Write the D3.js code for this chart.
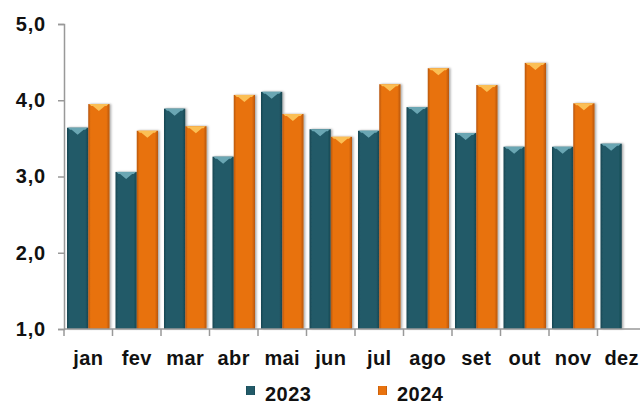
<!DOCTYPE html>
<html>
<head>
<meta charset="utf-8">
<script src="https://cdn.jsdelivr.net/npm/d3@7"></script>
<style>
  body { margin: 0; background: #fff; }
  text { font-family: "Liberation Sans", Arial, sans-serif; font-weight: bold; fill: #111; }
</style>
</head>
<body>
<div id="chart"></div>
<script>
var months = ["jan", "fev", "mar", "abr", "mai", "jun", "jul", "ago", "set", "out", "nov", "dez"];
var series = ["2023", "2024"];
var values2023 = [3.64, 3.06, 3.89, 3.26, 4.11, 3.62, 3.60, 3.91, 3.57, 3.39, 3.39, 3.43];
var values2024 = [3.95, 3.60, 3.66, 4.07, 3.82, 3.52, 4.21, 4.42, 4.20, 4.49, 3.96, null];
var yTicks = [1, 2, 3, 4, 5];

var colors = { "2023": ["#174651", "#225a68", "#6aa6b3"], "2024": ["#b8560a", "#e8720e", "#fbbf55"] };

var width = 640, height = 405;
var svg = d3.select("#chart").append("svg")
    .attr("width", width)
    .attr("height", height);

var defs = svg.append("defs");
series.forEach(function(s) {
    var g = defs.append("linearGradient").attr("id", "grad" + s)
        .attr("x1", 0).attr("x2", 1).attr("y1", 0).attr("y2", 0);
    g.append("stop").attr("offset", "0%").attr("stop-color", colors[s][0]);
    g.append("stop").attr("offset", "12%").attr("stop-color", colors[s][1]);
    g.append("stop").attr("offset", "85%").attr("stop-color", colors[s][1]);
    g.append("stop").attr("offset", "100%").attr("stop-color", colors[s][0]);
});
var shadow = defs.append("filter").attr("id", "shadow")
    .attr("x", "-20%").attr("y", "-5%").attr("width", "150%").attr("height", "115%");
shadow.append("feDropShadow").attr("dx", 1.5).attr("dy", 0).attr("stdDeviation", 1)
    .attr("flood-color", "#000").attr("flood-opacity", 0.35);

var x0 = d3.scaleBand().domain(months).range([64, 646]);
var x1 = d3.scaleBand().domain(series).range([3, x0.bandwidth() - 3]);
var y = d3.scaleLinear().domain([1, 5]).range([329, 24]);

var data = months.map(function(m, i) {
    return { month: m, vals: [
        { s: "2023", v: values2023[i] },
        { s: "2024", v: values2024[i] }
    ].filter(function(d) { return d.v != null; }) };
});

// bars
var groups = svg.append("g").selectAll("g")
    .data(data)
    .enter().append("g")
    .attr("transform", function(d) { return "translate(" + x0(d.month) + ",0)"; });

var bar = groups.selectAll("g")
    .data(function(d) { return d.vals; })
    .enter().append("g")
    .attr("filter", "url(#shadow)");

bar.append("rect")
    .attr("x", function(d) { return x1(d.s); })
    .attr("y", function(d) { return y(d.v); })
    .attr("width", x1.bandwidth())
    .attr("height", function(d) { return y(1) - y(d.v); })
    .attr("fill", function(d) { return "url(#grad" + d.s + ")"; });

// light bevel at bar top
bar.append("path")
    .attr("fill", function(d) { return colors[d.s][2]; })
    .attr("d", function(d) {
        var l = x1(d.s) + 1, r = x1(d.s) + x1.bandwidth() - 1, t = y(d.v), m = (l + r) / 2;
        return "M" + l + "," + t + "L" + r + "," + t + "L" + (r - 2) + "," + (t + 2)
            + "L" + (m + 6) + "," + (t + 2) + "L" + m + "," + (t + 7)
            + "L" + (m - 6) + "," + (t + 2) + "L" + (l + 2) + "," + (t + 2) + "Z";
    });

// y axis
var yAxis = svg.append("g")
    .attr("transform", "translate(64,0)")
    .call(d3.axisLeft(y).tickValues(yTicks).tickSize(6).tickPadding(12)
        .tickFormat(function(d) { return d3.format(".1f")(d).replace(".", ","); }));
yAxis.select(".domain").attr("stroke", "#999").attr("stroke-width", 1.5);
yAxis.selectAll(".tick line").attr("stroke", "#999").attr("stroke-width", 1.5);
yAxis.selectAll(".tick text")
    .style("font-size", "20px")
    .style("letter-spacing", "0.8px")
    .attr("fill", "#111");
yAxis.attr("font-family", null).attr("font-size", null);

// x axis
var xAxis = svg.append("g")
    .attr("transform", "translate(0,329)");
xAxis.append("line")
    .attr("x1", 64).attr("x2", 646)
    .attr("stroke", "#999").attr("stroke-width", 1.5);
xAxis.selectAll(".xt")
    .data(months)
    .enter().append("line")
    .attr("x1", function(d) { return x0(d); })
    .attr("x2", function(d) { return x0(d); })
    .attr("y1", 0).attr("y2", 7)
    .attr("stroke", "#999").attr("stroke-width", 1.5);
xAxis.selectAll(".xl")
    .data(months)
    .enter().append("text")
    .attr("x", function(d) { return x0(d) + x0.bandwidth() / 2; })
    .attr("y", 36)
    .attr("text-anchor", "middle")
    .style("font-size", "20px")
    .style("letter-spacing", "0.4px")
    .text(function(d) { return d; });

// legend
var legendX = [246, 378];
var legend = svg.append("g").selectAll("g")
    .data(series)
    .enter().append("g")
    .attr("transform", function(d, i) { return "translate(" + legendX[i] + ",386)"; });
legend.append("rect")
    .attr("width", 9).attr("height", 9)
    .attr("fill", function(d) { return "url(#grad" + d + ")"; });
legend.append("text")
    .attr("x", 19).attr("y", 15)
    .style("font-size", "20px")
    .style("letter-spacing", "0.5px")
    .text(function(d) { return d; });
</script>
</body>
</html>
